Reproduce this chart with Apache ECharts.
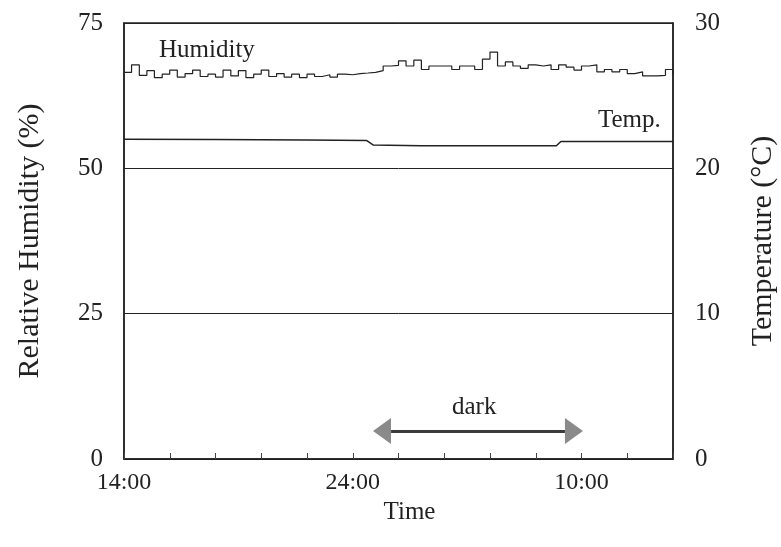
<!DOCTYPE html>
<html>
<head>
<meta charset="utf-8">
<title>Humidity / Temp.</title>
<script src="https://cdn.jsdelivr.net/npm/echarts@6/dist/echarts.min.js"></script>
<style>
    html, body { margin: 0; padding: 0; background: #fff; }
    #chart { width: 781px; height: 547px; }
</style>
</head>
<body>
<div id="chart"></div>
<script>
// hours after 14:00
var humHours = [0, 0.33, 0.67, 1, 1.33, 1.67, 2, 2.33, 2.67, 3, 3.33, 3.67, 4, 4.33, 4.67, 5, 5.33, 5.67,
    6, 6.33, 6.67, 7, 7.33, 7.67, 8, 8.33, 8.67, 9, 9.33, 9.67, 10, 10.33, 10.67, 11, 11.33, 11.67,
    12, 12.33, 12.67, 13, 13.33, 13.67, 14, 14.33, 14.67, 15, 15.33, 15.67, 16, 16.33, 16.67, 17, 17.33, 17.67,
    18, 18.33, 18.67, 19, 19.33, 19.67, 20, 20.33, 20.67, 21, 21.33, 21.67, 22, 22.33, 22.67, 23, 23.33, 23.67, 24];
var humValues = [66.5, 67.8, 66.0, 66.8, 65.6, 66.2, 66.9, 65.7, 66.3, 66.9, 65.8, 66.2, 65.7, 66.9, 65.9, 66.8, 65.6, 66.2,
    66.9, 65.8, 66.3, 65.7, 66.2, 65.6, 66.2, 65.8, 66.1, 65.7, 66.2, 66.1, 66.3, 66.4, 66.5, 66.8, 67.6, 67.7,
    68.5, 67.6, 68.6, 67.0, 67.6, 67.6, 67.6, 67.0, 67.6, 67.6, 67.0, 68.8, 70.0, 67.6, 68.3, 67.6, 67.2, 67.8,
    67.6, 67.8, 67.0, 67.8, 67.4, 66.9, 67.6, 67.8, 66.6, 67.0, 66.6, 67.0, 66.3, 66.6, 65.9, 65.9, 66.0, 67.0, 66.2];

var tempHours = [0, 4, 8, 10.6, 10.9, 13, 16, 18.9, 19.1, 24];
var tempValues = [22.0, 21.98, 21.95, 21.92, 21.6, 21.55, 21.55, 21.55, 21.85, 21.85];

var xTickLabels = { 0: '14:00', 10: '24:00', 20: '10:00' };
var darkStart = 11.28, darkEnd = 19.67, darkLevel = 4.8;

function pairs(xs, ys) {
    return xs.map(function(x, i) { return [x, ys[i]]; });
}

var serif = 'Liberation Serif';
var chart = echarts.init(document.getElementById('chart'));

var option = {
    animation: false,
    textStyle: { fontFamily: serif, color: '#222' },
    grid: {
        left: 124, right: 108, top: 23, bottom: 88,
        outerBoundsMode: 'none', containLabel: false,
        show: true, borderColor: '#222', borderWidth: 1.5, backgroundColor: '#fff'
    },
    xAxis: {
        type: 'value', min: 0, max: 24, interval: 2,
        name: 'Time', nameLocation: 'middle', nameGap: 38,
        nameTextStyle: { fontFamily: serif, fontSize: 25, color: '#222', padding: [0, 0, 0, 22] },
        axisLine: { show: true, lineStyle: { color: '#222', width: 1.5 } },
        axisTick: { show: true, inside: true, length: 6, lineStyle: { color: '#444' } },
        splitLine: { show: false },
        axisLabel: {
            fontFamily: serif, fontSize: 24, color: '#222', margin: 12, showMinLabel: true,
            formatter: function(v) { return xTickLabels[v] || ''; }
        }
    },
    yAxis: [{
        type: 'value', min: 0, max: 75, interval: 25, position: 'left',
        name: 'Relative Humidity (%)', nameLocation: 'middle', nameGap: 79,
        nameTextStyle: { fontFamily: serif, fontSize: 30, color: '#222' },
        axisLine: { show: true, lineStyle: { color: '#222', width: 1.5 } },
        axisTick: { show: false },
        splitLine: { show: true, lineStyle: { color: '#222', width: 1 } },
        axisLabel: { fontFamily: serif, fontSize: 25, color: '#222', margin: 21 }
    }, {
        type: 'value', min: 0, max: 30, interval: 10, position: 'right',
        name: 'Temperature (°C)', nameLocation: 'middle', nameGap: 75,
        nameTextStyle: { fontFamily: serif, fontSize: 30, color: '#222' },
        axisLine: { show: true, lineStyle: { color: '#222', width: 1.5 } },
        axisTick: { show: false },
        splitLine: { show: false },
        axisLabel: { fontFamily: serif, fontSize: 25, color: '#222', margin: 22 }
    }],
    series: [{
        name: 'Humidity',
        type: 'line',
        step: 'end',
        yAxisIndex: 0,
        showSymbol: false,
        lineStyle: { color: '#222', width: 1.2 },
        data: pairs(humHours, humValues),
        markLine: {
            silent: true,
            label: { show: false },
            data: [
                [{ coord: [darkStart, darkLevel], symbol: 'triangle', symbolSize: [26, 18],
                   lineStyle: { color: '#8a8a8a', width: 3, type: 'solid' } },
                 { coord: [darkEnd, darkLevel], symbol: 'triangle', symbolSize: [26, 18] }],
                [{ coord: [darkStart + 0.4, darkLevel], symbol: 'none',
                   lineStyle: { color: '#3a3a3a', width: 3, type: 'solid' } },
                 { coord: [darkEnd - 0.4, darkLevel], symbol: 'none' }]
            ]
        }
    }, {
        name: 'Temp.',
        type: 'line',
        yAxisIndex: 1,
        showSymbol: false,
        lineStyle: { color: '#222', width: 1.5 },
        data: pairs(tempHours, tempValues)
    }],
    graphic: [
        { type: 'text', left: 159, top: 38, style: { text: 'Humidity', font: '25px "Liberation Serif"', fill: '#222' } },
        { type: 'text', left: 598, top: 108, style: { text: 'Temp.', font: '25px "Liberation Serif"', fill: '#222' } },
        { type: 'text', left: 452, top: 395, style: { text: 'dark', font: '25px "Liberation Serif"', fill: '#222' } }
    ]
};
chart.setOption(option);
</script>
</body>
</html>
